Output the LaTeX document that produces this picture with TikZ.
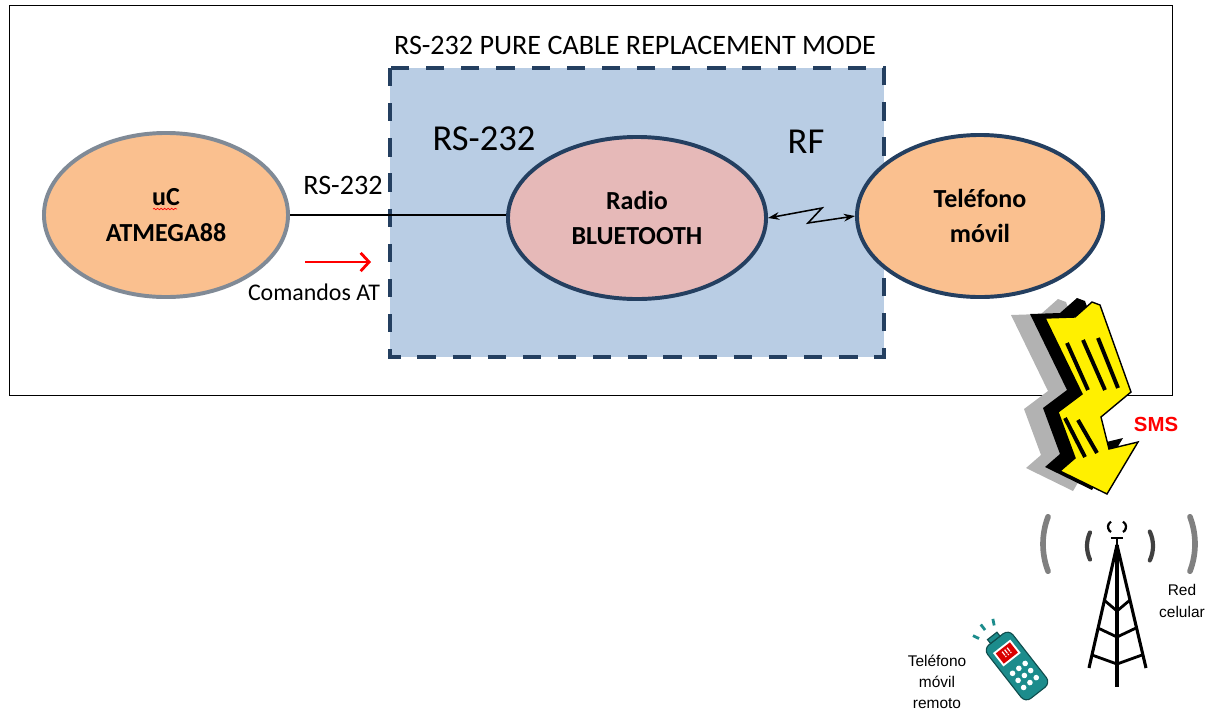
\documentclass[tikz,border=0pt]{standalone}
\usepackage{fontspec}
\setmainfont{Carlito}
\newfontfamily\arialfont{Liberation Sans}
\usetikzlibrary{shapes.geometric,arrows.meta,decorations.pathmorphing}

\definecolor{azulcaixa}{RGB}{185,205,228}
\definecolor{azulborda}{RGB}{36,63,96}
\definecolor{laranja}{RGB}{250,192,143}
\definecolor{rosa}{RGB}{230,185,184}
\definecolor{cinzaborda}{RGB}{128,138,150}
\definecolor{amarelo}{RGB}{255,240,0}
\definecolor{verdeazul}{RGB}{28,140,140}

% contorno do raio (em pixels)
\newcommand{\raio}{(1045,318) -- (1075,317) -- (1092,302) -- (1100,305) -- (1131,392) -- (1101,417) -- (1109,449) -- (1138,442) -- (1107,494) -- (1060,471) -- (1075,458) -- (1058,412) -- (1082,394) -- cycle}

\begin{document}
\begin{tikzpicture}[x=0.025cm, y=-0.025cm,
    bolha/.style={ellipse, line width=2.8pt, align=center, font=\bfseries\fontsize{18.5}{25}\selectfont},
    rotulo/.style={inner sep=0pt, font=\fontsize{20}{24}\selectfont},
    legenda/.style={inner sep=0pt, align=center, font=\arialfont\fontsize{11}{15}\selectfont}]
    \useasboundingbox (0,0) rectangle (1211,713);
    \draw[line width=0.7pt] (9,5) rectangle (1172,395); % Moldura
    \draw[fill=azulcaixa, draw=azulborda, line width=3.5pt, dash pattern=on 13pt off 12pt] (390,68) rectangle (884,357); % Caixa tracejada
    \node[rotulo] (titulo) at (635,45) {RS-232 PURE CABLE REPLACEMENT MODE};

    % Elipses
    \node[bolha, fill=laranja, draw=cinzaborda, minimum width=6.1cm, minimum height=4.1cm] (uc) at (166,215) {uC\\ATMEGA88};
    \node[bolha, fill=rosa, draw=azulborda, minimum width=6.45cm, minimum height=4.05cm] (radio) at (637,218) {Radio\\BLUETOOTH};
    \node[bolha, fill=laranja, draw=azulborda, minimum width=6.15cm, minimum height=4.05cm] (telefone) at (980,216) {Teléfono\\móvil};
    \draw[red, line width=0.5pt, decorate, decoration={snake, amplitude=0.5pt, segment length=2.5pt}] (153,209) -- (177,209); % Sublinhado

    % Ligacoes
    \draw[line width=0.8pt] (uc.east) -- (uc.east -| radio.west);
    \node[rotulo] (rs) at (343,185) {RS-232};
    \node[rotulo, font=\fontsize{26}{30}\selectfont] (rsb) at (484,139) {RS-232};
    \node[rotulo, font=\fontsize{26}{30}\selectfont] (rf) at (806,142) {RF};
    \coordinate (zigA) at (822,208);
    \coordinate (zigB) at (808,223);
    \draw[line width=1.1pt, {Stealth[length=8pt,width=5.5pt]}-{Stealth[length=8pt,width=5.5pt]}] (radio.east) -- (zigA) -- (zigB) -- (telefone.west);
    \coordinate (setaA) at (305,262);
    \coordinate (setaB) at (371,262);
    \draw[red, line width=2pt, -{Straight Barb[length=6pt,width=13pt]}] (setaA) -- (setaB); % Seta vermelha
    \node[rotulo, font=\fontsize{17}{20}\selectfont] (at) at (314,292) {Comandos AT};

    % Raio
    \fill[gray!60, shift={(-34,-3)}] \raio;
    \fill[black, shift={(-15,-4)}] \raio;
    \filldraw[fill=amarelo, draw=black, line width=1pt] \raio;
    \draw[line width=2.8pt] (1067,343) -- (1088,390);
    \draw[line width=2.8pt] (1083,340) -- (1105,390);
    \draw[line width=2.8pt] (1098,338) -- (1118,388);
    \draw[line width=2.8pt] (1065,418) -- (1085,457);
    \draw[line width=2.8pt] (1078,420) -- (1097,453);
    \node[legenda, red, font=\arialfont\bfseries\fontsize{14.5}{17}\selectfont] (sms) at (1156,424) {SMS};

    % Torre
    \draw[line width=2.2pt] (1117,545) -- (1089,668);
    \draw[line width=2.2pt] (1117,545) -- (1146,668);
    \draw[line width=2.2pt] (1117,545) -- (1117,687);
    \draw[line width=2pt] (1104,600) -- (1117,611) -- (1130,600);
    \draw[line width=2pt] (1098,628) -- (1117,637) -- (1136,628);
    \draw[line width=2pt] (1092,655) -- (1117,664) -- (1142,655);
    \draw[line width=1.6pt] (1111,538) -- (1123,538);
    \draw[line width=1.6pt] (1117,538) -- (1117,546);
    \draw[line width=1.6pt] (1111,532) arc[start angle=120, end angle=240, radius=6];
    \draw[line width=1.6pt] (1123,532) arc[start angle=60, end angle=-60, radius=6];
    \draw[black!75, line width=3pt, line cap=round] (1119,546) ++(155:32) arc[start angle=155, end angle=205, radius=32];
    \draw[black!75, line width=3pt, line cap=round] (1119,546) ++(25:34) arc[start angle=25, end angle=-25, radius=34];
    \draw[black!50, line width=4pt, line cap=round] (1119,544) ++(159:76) arc[start angle=159, end angle=201, radius=76];
    \draw[black!50, line width=4pt, line cap=round] (1119,544) ++(21:76) arc[start angle=21, end angle=-21, radius=76];
    \node[legenda] (rede) at (1182,601) {Red\\celular};

    % Telefone remoto
    \begin{scope}[shift={(1017,666)}, rotate=38]
        \filldraw[fill=verdeazul, draw=verdeazul!55!black, line width=0.8pt, rounded corners=5pt] (-16,-34) rectangle (16,34); % Corpo
        \filldraw[fill=verdeazul, draw=verdeazul!55!black, line width=0.8pt] (-7,-34) rectangle (5,-39);
        \fill[white] (-11,-25) rectangle (11,-8);
        \fill[red!85!black] (-9,-23) rectangle (9,-10); % Visor
        \node[white, inner sep=0pt, transform shape, font=\arialfont\bfseries\fontsize{7}{7}\selectfont] (alerta) at (0,-16.5) {!!!};
        \foreach \i in {-8,0,8}
            \foreach \j in {3,12,21}
                \fill[white] (\i,\j) circle (2.8); % Teclas
        \draw[verdeazul, line width=2pt] (-13,-45) -- (-16,-51);
        \draw[verdeazul, line width=2pt] (-3,-48) -- (-3,-55);
        \draw[verdeazul, line width=2pt] (7,-46) -- (10,-52);
    \end{scope}
    \node[legenda] (remoto) at (937,682) {Teléfono\\móvil\\remoto};
\end{tikzpicture}
\end{document}
